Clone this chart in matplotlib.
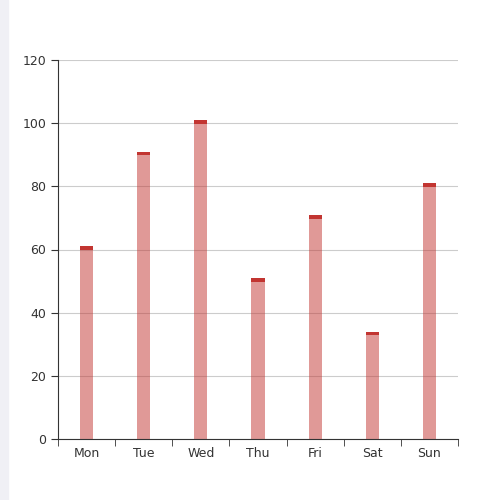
import matplotlib.pyplot as plt
import matplotlib.patches as mpatches

days = ["Mon", "Tue", "Wed", "Thu", "Fri", "Sat", "Sun"]
values = [60, 90, 100, 50, 70, 33, 80]

fig = plt.figure(figsize=(5, 5), dpi=100)
fig.patches.append(mpatches.Rectangle((0, 0), 0.016, 1, transform=fig.transFigure,
                                      color="#f0f0f5", zorder=0))
ax = fig.add_axes([0.116, 0.122, 0.8, 0.758])

x = range(len(days))
ax.bar(x, values, width=0.23, color="#c23531", alpha=0.5, zorder=2)
# dark cap on top of each bar
ax.bar(x, [1.2] * len(values), bottom=[v - 0.2 for v in values], width=0.23,
       color="#c23531", zorder=3)

ax.set_xlim(-0.5, len(days) - 0.5)
ax.set_ylim(0, 120)
ax.set_yticks(range(0, 121, 20))
ax.set_xticks(x)
ax.set_xticklabels(days)
ax.set_xticks([i - 0.5 for i in range(len(days) + 1)], minor=True)
ax.tick_params(axis="x", which="major", length=0, pad=6)
ax.tick_params(axis="x", which="minor", length=5, color="#333333")
ax.tick_params(axis="y", length=5, color="#333333")
ax.tick_params(labelsize=9, labelcolor="#333333")
ax.grid(axis="y", color="#cccccc", linewidth=0.8, zorder=0)
for s in ["top", "right"]:
    ax.spines[s].set_visible(False)
for s in ["left", "bottom"]:
    ax.spines[s].set_color("#333333")

fig.savefig("out.png")
